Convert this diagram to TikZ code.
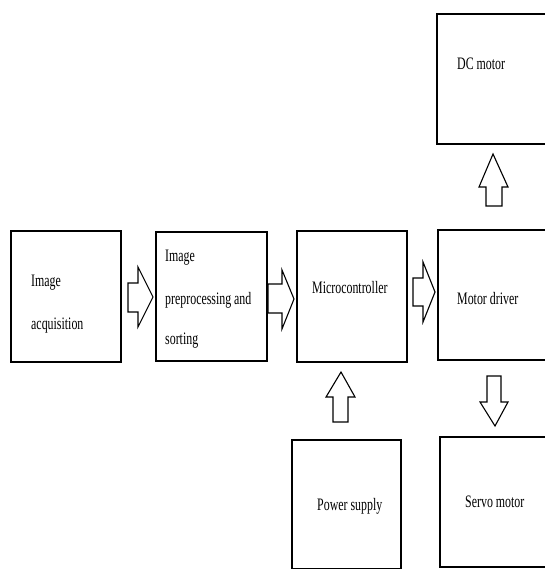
\documentclass[tikz,border=0pt]{standalone}
\usepackage{fontspec}
\setmainfont{Liberation Serif}
\usepackage{graphicx}
\newcommand{\sqz}[1]{\scalebox{0.68}[1]{#1}}
\begin{document}
\begin{tikzpicture}[x=1pt,y=-1pt,
  box/.style={draw=black, line width=1.5pt, fill=white, inner sep=0pt, minimum width=110, minimum height=130},
  lbl/.style={inner sep=0pt, anchor=base west, font=\fontsize{17.5}{20}\selectfont},
  blockarrow/.style={draw=black, line width=1.1pt, fill=white, line join=miter}]
\useasboundingbox (0,0) rectangle (544,569);
\fill[white] (0,0) rectangle (544,569);

% boxes
\node[box, minimum height=131] (acq) at (66,296.5) {};
\node[box, minimum width=111, minimum height=129] (pre) at (211.5,296.5) {};
\node[box, minimum height=131] (mcu) at (352,296.5) {};
\node[box] (drv) at (493,295) {};
\node[box] (dc) at (492,79) {};
\node[box, minimum width=109, minimum height=129] (ps) at (346.5,504.5) {};
\node[box] (servo) at (495,502) {};

% labels
\node[lbl] (acq1) at (31,286) {\sqz{Image}};
\node[lbl] (acq2) at (31,329) {\sqz{acquisition}};
\node[lbl] (pre1) at (165,261) {\sqz{Image}};
\node[lbl] (pre2) at (165,304) {\sqz{\makebox[126.5pt][s]{preprocessing\hfill and}}};
\node[lbl] (pre3) at (165,344) {\sqz{sorting}};
\node[lbl] (mcut) at (312,293) {\sqz{Microcontroller}};
\node[lbl] (drvt) at (457,304) {\sqz{Motor driver}};
\node[lbl] (dct) at (457,70) {\sqz{DC motor}};
\node[lbl] (pst) at (317,510) {\sqz{Power supply}};
\node[lbl] (servot) at (465,507) {\sqz{Servo motor}};

% block arrows
\draw[blockarrow] (128,283) -- (138,283) -- (138,267) -- (153,297) -- (138,327) -- (138,312) -- (128,312) -- cycle;
\draw[blockarrow] (268,284) -- (282,284) -- (282,270) -- (294,299) -- (282,329) -- (282,313) -- (268,313) -- cycle;
\draw[blockarrow] (413,278) -- (423,278) -- (423,262) -- (435,292) -- (423,322) -- (423,306) -- (413,306) -- cycle;
\draw[blockarrow] (486,206) -- (486,187) -- (479,187) -- (493,154) -- (508,187) -- (502,187) -- (502,206) -- cycle;
\draw[blockarrow] (333,422) -- (333,397) -- (326,397) -- (341,372) -- (355,397) -- (348,397) -- (348,422) -- cycle;
\draw[blockarrow] (487,376) -- (487,402) -- (480,402) -- (495,426) -- (508,402) -- (501,402) -- (501,376) -- cycle;
\end{tikzpicture}
\end{document}
